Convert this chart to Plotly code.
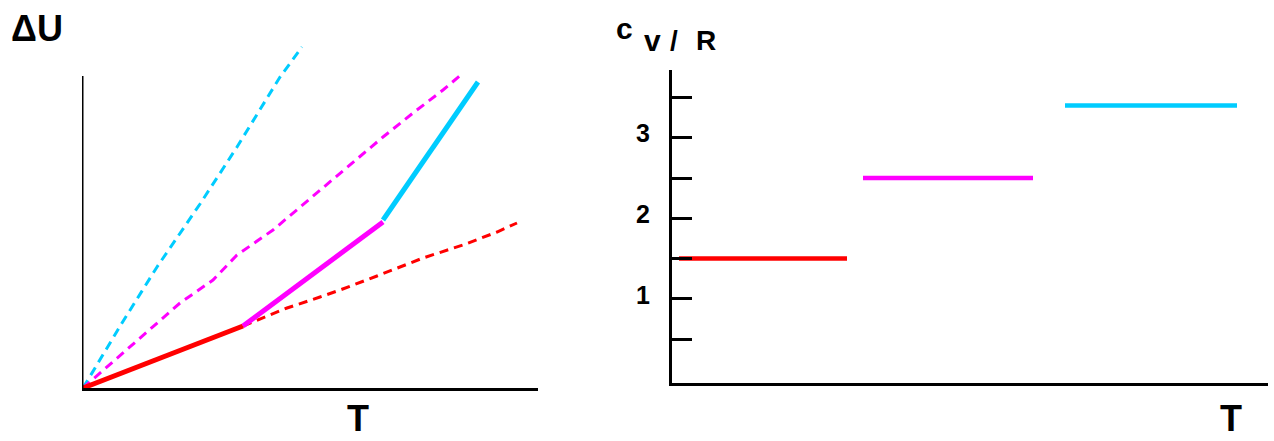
import plotly.graph_objects as go

# ---- Left panel: internal energy vs temperature (arbitrary units) ----
# solid path: translational -> + rotational -> + vibrational regimes
seg_red_T = [0.0, 1.60]
seg_red_U = [0.0, 0.62]
seg_mag_T = [1.60, 3.00]
seg_mag_U = [0.62, 1.66]
seg_cyan_T = [3.00, 3.95]
seg_cyan_U = [1.68, 3.06]

# dashed extrapolations of each regime
dash_red_T = [1.60, 2.04, 2.37, 2.57, 2.94, 3.40, 3.80, 4.14, 4.34]
dash_red_U = [0.62, 0.80, 0.91, 0.98, 1.12, 1.30, 1.43, 1.56, 1.65]
dash_mag_T = [0.0, 0.55, 0.97, 1.30, 1.54, 1.90, 2.57, 3.00, 3.30, 3.60, 3.79]
dash_mag_U = [0.0, 0.48, 0.85, 1.08, 1.33, 1.58, 2.15, 2.51, 2.75, 2.98, 3.14]
dash_cyan_T = [0.0, 0.39, 0.74, 1.17, 1.54, 1.97, 2.19]
dash_cyan_U = [0.0, 0.65, 1.21, 1.84, 2.41, 3.11, 3.41]

# ---- Right panel: heat capacity cv/R vs temperature ----
cv_red_T = [0.07, 1.75]
cv_red = [1.5, 1.5]
cv_mag_T = [1.91, 3.61]
cv_mag = [2.5, 2.5]
cv_cyan_T = [3.93, 5.65]
cv_cyan = [3.4, 3.4]
cv_tickvals = [0.5, 1.0, 1.5, 2.0, 2.5, 3.0, 3.5]
cv_ticktext = ["", "1", "", "2", "", "3", ""]

RED = "#FF0000"
MAG = "#FF00FF"
CYAN = "#00CCFF"
FONT = "Liberation Sans, Arial, sans-serif"

fig = go.Figure()

def line(x, y, color, width, dash="solid", xa="x", ya="y"):
    fig.add_trace(go.Scatter(
        x=x, y=y, mode="lines", xaxis=xa, yaxis=ya, hoverinfo="skip",
        line=dict(color=color, width=width, dash=dash),
        showlegend=False,
    ))

DASH = "9px,6px"
line(dash_cyan_T, dash_cyan_U, CYAN, 3, DASH)
line(dash_mag_T, dash_mag_U, MAG, 3, DASH)
line(dash_red_T, dash_red_U, RED, 3, DASH)
line(seg_red_T, seg_red_U, RED, 5)
line(seg_mag_T, seg_mag_U, MAG, 5)
line(seg_cyan_T, seg_cyan_U, CYAN, 5)

line(cv_red_T, cv_red, RED, 4.5, xa="x2", ya="y2")
line(cv_mag_T, cv_mag, MAG, 4.5, xa="x2", ya="y2")
line(cv_cyan_T, cv_cyan, CYAN, 4.5, xa="x2", ya="y2")

W, H = 1274, 441

fig.update_layout(
    width=W, height=H,
    margin=dict(l=0, r=0, t=0, b=0),
    paper_bgcolor="white", plot_bgcolor="white",
    font=dict(family=FONT, color="black"),
    xaxis=dict(domain=[82 / W, 538 / W], range=[-0.01, 4.55],
               showgrid=False, zeroline=False, showticklabels=False, ticks="",
               showline=True, linecolor="black", linewidth=3),
    yaxis=dict(domain=[(H - 388) / H, (H - 43) / H], range=[0, 3.45],
               showgrid=False, zeroline=False, showticklabels=False, ticks="",
               showline=False),
    xaxis2=dict(domain=[672 / W, 1268 / W], range=[0, 5.96], anchor="y2",
                showgrid=False, zeroline=False, showticklabels=False, ticks="",
                showline=True, linecolor="black", linewidth=3),
    yaxis2=dict(domain=[(H - 383) / H, (H - 70) / H], range=[-0.043, 3.84],
                anchor="x2", showgrid=False, zeroline=False,
                showline=True, linecolor="black", linewidth=3,
                ticks="inside", ticklen=20, tickwidth=2.5, tickcolor="black",
                tickvals=cv_tickvals, ticktext=cv_ticktext,
                ticklabelstandoff=14, ticklabelshift=-4,
                layer="above traces",
                tickfont=dict(family=FONT, size=25, color="black", weight="bold")),
)

# vertical axis of the left panel (stops below the top of the dashed cyan line)
fig.add_shape(type="line", xref="x", yref="y", x0=-0.01, x1=-0.01, y0=0, y1=3.12,
              line=dict(color="black", width=3))

def label(text, x, y, size, yanchor="middle"):
    fig.add_annotation(text=text, x=x, y=y, xref="paper", yref="paper",
                       xanchor="center", yanchor=yanchor, showarrow=False,
                       font=dict(family=FONT, size=size, color="black", weight="bold"))

label("ΔU", 37 / W, 1 - 28 / H, 36)
label("T", 358 / W, 0, 36, "bottom")
label("T", 1231 / W, 0, 36, "bottom")
label("c", 624 / W, 1 - 28 / H, 30)
label("v", 652 / W, 1 - 41 / H, 30)
label("/", 674 / W, 1 - 41 / H, 28)
label("R", 706 / W, 1 - 41 / H, 28)

fig.write_html("out.html")
